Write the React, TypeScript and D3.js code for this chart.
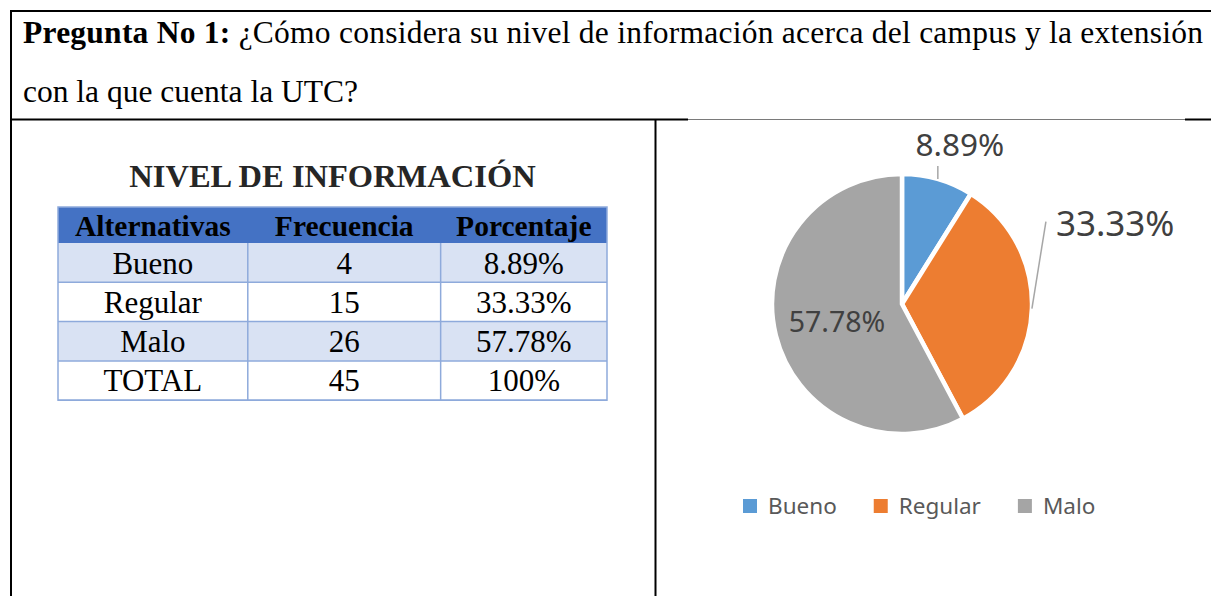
import React, { useMemo } from "react";
import * as d3 from "d3";

const categories = ["Bueno", "Regular", "Malo"];
const frequencies = [4, 15, 26];
const percentLabels = ["8.89%", "33.33%", "57.78%"];
const headers = ["Alternativas", "Frecuencia", "Porcentaje"];
const totalRow = ["TOTAL", "45", "100%"];
const sliceColors = ["#5B9BD5", "#ED7D31", "#A5A5A5"];
const questionBold = "Pregunta No 1:";
const questionLine1 = " ¿Cómo considera su nivel de información acerca del campus y la extensión";
const questionLine2 = "con la que cuenta la UTC?";
const tableTitle = "NIVEL DE INFORMACIÓN";

const W = 1211;
const H = 596;
const SERIF = "'Liberation Serif', 'Times New Roman', serif";
const SANS = "'Noto Sans', 'Open Sans', sans-serif";

function measure(text: string, font: string): number {
  try {
    const c = document.createElement("canvas");
    const ctx = c.getContext("2d");
    if (ctx) {
      ctx.font = font;
      return ctx.measureText(text).width;
    }
  } catch (e) {}
  return text.length * 11;
}

export default function App() {
  // table layout
  const tableX0 = 58;
  const tableX1 = 607;
  const colX = d3.scaleLinear().domain([0, 1]).range([tableX0, tableX1]);
  const colEdges = [0, 0.3457, 0.697, 1].map((f) => colX(f));
  const headerTop = 207;
  const headerBottom = 243;
  const rowH = 39.3;
  const rows = categories.map((c, i) => [c, String(frequencies[i]), percentLabels[i]]);
  rows.push(totalRow);

  // pie
  const cx = 902;
  const cy = 304;
  const r = 130;
  const pie = d3.pie<number>().sort(null).value((d) => d)(frequencies);
  const arc = d3.arc<d3.PieArcDatum<number>>().innerRadius(0).outerRadius(r);
  const pointAt = (a: number, rr: number) => [Math.sin(a) * rr, -Math.cos(a) * rr];

  const legend = useMemo(() => {
    let x = 743;
    return categories.map((c, i) => {
      const tw = measure(c, `22.5px 'Noto Sans'`);
      const item = { x, tx: x + 25, label: c, color: sliceColors[i] };
      x = x + 25 + tw + 37;
      return item;
    });
  }, []);

  const mid = pie.map((p) => (p.startAngle + p.endAngle) / 2);
  const bP = pointAt(mid[0], r);
  const rP = pointAt(mid[1], r);
  const mP = pointAt(mid[2], r * 0.5);

  return (
    <svg
      width={W}
      height={H}
      style={{ position: "absolute", left: 0, top: 0, background: "#fff" }}
      xmlns="http://www.w3.org/2000/svg"
    >
      <rect x={0} y={0} width={W} height={H} fill="#fff" />
      {/* outer frame */}
      <line x1={10} x2={W} y1={11} y2={11} stroke="#000" strokeWidth={2} />
      <line x1={11} x2={11} y1={10} y2={H} stroke="#000" strokeWidth={2} />
      <line x1={10} x2={688} y1={119.5} y2={119.5} stroke="#000" strokeWidth={2} />
      <line x1={688} x2={1185} y1={119.5} y2={119.5} stroke="#7a7a7a" strokeWidth={1} />
      <line x1={1185} x2={W} y1={119.5} y2={119.5} stroke="#000" strokeWidth={2} />
      <line x1={655.5} x2={655.5} y1={119} y2={H} stroke="#000" strokeWidth={2} />

      {/* question */}
      <text x={23} y={43} fontFamily={SERIF} fontSize={31.5} fill="#000" textLength={1180} lengthAdjust="spacing">
        <tspan fontWeight="bold">{questionBold}</tspan>
        <tspan>{questionLine1}</tspan>
      </text>
      <text x={23} y={102} fontFamily={SERIF} fontSize={31.5} fill="#000">
        {questionLine2}
      </text>

      {/* table title */}
      <text
        x={(tableX0 + tableX1) / 2}
        y={187}
        textAnchor="middle"
        fontFamily={SERIF}
        fontWeight="bold"
        fontSize={32.5}
        fill="#262626"
      >
        {tableTitle}
      </text>

      {/* table */}
      <rect x={tableX0} y={headerTop} width={tableX1 - tableX0} height={headerBottom - headerTop} fill="#4472C4" />
      {headers.map((h, i) => (
        <text
          key={h}
          x={(colEdges[i] + colEdges[i + 1]) / 2}
          y={headerTop + 29}
          textAnchor="middle"
          fontFamily={SERIF}
          fontWeight="bold"
          fontSize={29.5}
          fill="#000"
        >
          {h}
        </text>
      ))}
      {rows.map((row, ri) => {
        const y0 = headerBottom + ri * rowH;
        return (
          <g key={ri}>
            <rect
              x={tableX0}
              y={y0}
              width={tableX1 - tableX0}
              height={rowH}
              fill={ri % 2 === 0 ? "#D9E2F3" : "#FFFFFF"}
            />
            {row.map((cell, ci) => (
              <text
                key={ci}
                x={(colEdges[ci] + colEdges[ci + 1]) / 2}
                y={y0 + 30.5}
                textAnchor="middle"
                fontFamily={SERIF}
                fontSize={31}
                fill="#000"
              >
                {cell}
              </text>
            ))}
          </g>
        );
      })}
      {/* table grid */}
      {rows.map((_, ri) => (
        <line
          key={"h" + ri}
          x1={tableX0}
          x2={tableX1}
          y1={headerBottom + (ri + 1) * rowH}
          y2={headerBottom + (ri + 1) * rowH}
          stroke="#8EAADB"
          strokeWidth={1.5}
        />
      ))}
      {[1, 2].map((ci) => (
        <line
          key={"v" + ci}
          x1={colEdges[ci]}
          x2={colEdges[ci]}
          y1={headerBottom}
          y2={headerBottom + rows.length * rowH}
          stroke="#8EAADB"
          strokeWidth={1.5}
        />
      ))}
      <rect
        x={tableX0}
        y={headerTop}
        width={tableX1 - tableX0}
        height={headerBottom - headerTop + rows.length * rowH}
        fill="none"
        stroke="#8EAADB"
        strokeWidth={1.5}
      />

      {/* pie */}
      <g transform={`translate(${cx},${cy})`}>
        {pie.map((p, i) => (
          <path key={i} d={arc(p) || ""} fill={sliceColors[i]} stroke="#fff" strokeWidth={4.5} strokeLinejoin="miter" />
        ))}
        {/* leader lines */}
        <line x1={bP[0]} y1={bP[1]} x2={bP[0]} y2={bP[1] - 13} stroke="#A6A6A6" strokeWidth={1.5} />
        <line x1={rP[0]} y1={rP[1]} x2={rP[0] + 14} y2={rP[1] - 87} stroke="#A6A6A6" strokeWidth={1.5} />
        <text x={bP[0] + 22} y={bP[1] - 23} textAnchor="middle" fontFamily={SANS} fontSize={31.5} fill="#404040">
          {percentLabels[0]}
        </text>
        <text x={rP[0] + 24} y={rP[1] - 73} textAnchor="start" fontFamily={SANS} fontSize={35} fill="#404040">
          {percentLabels[1]}
        </text>
        <text
          x={mP[0] - 2}
          y={mP[1] + 12}
          textAnchor="middle"
          fontFamily={SANS}
          fontSize={28.5}
          fill="#404040"
        >
          {percentLabels[2]}
        </text>
      </g>

      {/* legend */}
      {legend.map((l) => (
        <g key={l.label}>
          <rect x={l.x} y={499} width={14} height={14} fill={l.color} />
          <text x={l.tx} y={514} fontFamily={SANS} fontSize={22.5} fill="#595959">
            {l.label}
          </text>
        </g>
      ))}
    </svg>
  );
}
